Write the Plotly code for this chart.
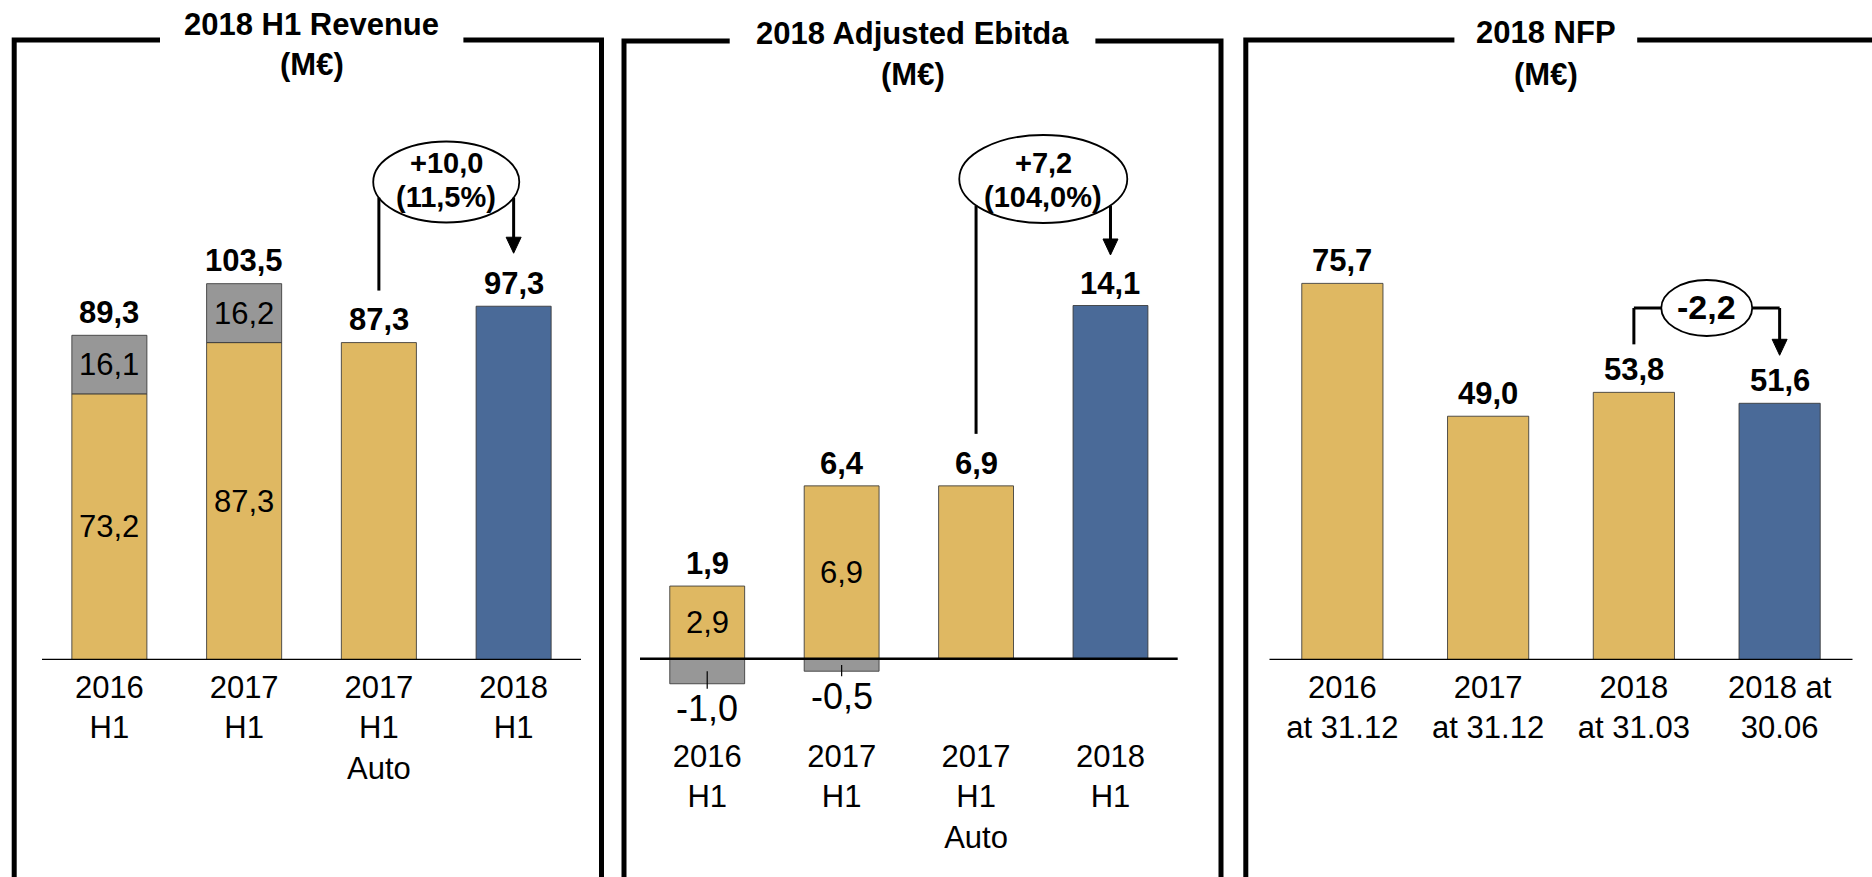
import plotly.graph_objects as go

W, H = 1872, 877

# ---------------- data ----------------
rev_categories = ["2016<br>H1", "2017<br>H1", "2017<br>H1<br>Auto", "2018<br>H1"]
rev_core = [73.2, 87.3, 87.3]          # gold segments (2016 H1, 2017 H1, 2017 H1 Auto)
rev_other = [16.1, 16.2]               # grey segments stacked on 2016 / 2017
rev_current = [97.3]                   # 2018 H1
rev_delta_text = ["+10,0", "(11,5%)"]

ebitda_categories = ["2016<br>H1", "2017<br>H1", "2017<br>H1<br>Auto", "2018<br>H1"]
ebitda_core = [2.9, 6.9, 6.9]
ebitda_other = [-1.0, -0.5]
ebitda_current = [14.1]
ebitda_delta_text = ["+7,2", "(104,0%)"]

nfp_categories = ["2016<br>at 31.12", "2017<br>at 31.12", "2018<br>at 31.03", "2018 at<br>30.06"]
nfp_past = [75.7, 49.0, 53.8]
nfp_current = [51.6]
nfp_delta_text = "-2,2"

titles = ["2018 H1 Revenue", "2018 Adjusted Ebitda", "2018 NFP"]
unit = "(M€)"

# ---------------- style ----------------
GOLD = "#DFB862"
GREY = "#979797"
BLUE = "#4A6A98"
EDGE = "rgba(55,55,55,0.85)"
FONT = "Liberation Sans, Arial, Helvetica, sans-serif"
BAR_W = 0.557


def fmt(v):
    return f"{v:.1f}".replace(".", ",")


# panel geometry in pixels: axis extent, zero line, plot bottom/top, px per unit
panels = [
    dict(x0=42, x1=581, base=660.0, bottom=660.0, top=105.0, s=3.636,
         box=(14.2, 601.5, 40.0), gap=(160.0, 463.4), title_y=(24.0, 64.0)),
    dict(x0=640, x1=1177.7, base=658.7, bottom=729.0, top=105.0, s=25.05,
         box=(624.0, 1221.0, 41.0), gap=(729.7, 1095.4), title_y=(33.3, 74.5)),
    dict(x0=1269.5, x1=1852.5, base=660.0, bottom=660.0, top=105.0, s=4.975,
         box=(1245.8, 1874.5, 40.0), gap=(1454.4, 1637.2), title_y=(32.0, 74.5)),
]

fig = go.Figure()
shapes = []
annotations = []


def px(xp):
    return xp / W


def py(yp):
    return 1 - yp / H


def bar(idx, xs, ys, color, base=None):
    ax = "" if idx == 1 else str(idx)
    fig.add_trace(go.Bar(
        x=xs, y=ys, base=base, width=BAR_W,
        marker=dict(color=color, line=dict(color=EDGE, width=1)),
        xaxis="x" + ax, yaxis="y" + ax, showlegend=False, hoverinfo="skip"))


def text(idx, x, y, s, size, bold=False, yshift=0, yanchor="middle"):
    ax = "" if idx == 1 else str(idx)
    annotations.append(dict(
        x=x, y=y, xref="x" + ax, yref="y" + ax, text=s, showarrow=False,
        yshift=yshift, yanchor=yanchor, xanchor="center",
        font=dict(family=FONT, size=size, color="black",
                  weight="bold" if bold else "normal")))


def line(idx, xa, ya, xb, yb, width=3):
    ax = "" if idx == 1 else str(idx)
    shapes.append(dict(type="line", xref="x" + ax, yref="y" + ax,
                       x0=xa, y0=ya, x1=xb, y1=yb,
                       line=dict(color="black", width=width), layer="above"))


def arrow_head(idx, x, y):
    ax = "" if idx == 1 else str(idx)
    shapes.append(dict(type="path", xref="x" + ax, yref="y" + ax,
                       xsizemode="pixel", ysizemode="pixel",
                       xanchor=x, yanchor=y,
                       path="M -7.5,16 L 7.5,16 L 0,0 Z",
                       fillcolor="black", line=dict(color="black", width=1),
                       layer="above"))


def bubble(idx, xc, yc, rx, ry):
    ax = "" if idx == 1 else str(idx)
    shapes.append(dict(type="circle", xref="x" + ax, yref="y" + ax,
                       x0=xc - rx, x1=xc + rx, y0=yc - ry, y1=yc + ry,
                       line=dict(color="black", width=1.8),
                       fillcolor="white", layer="above"))


# ---------------- axes ----------------
cat_lists = [rev_categories, ebitda_categories, nfp_categories]
for i, p in enumerate(panels, start=1):
    key = "" if i == 1 else str(i)
    yr = [-(p["bottom"] - p["base"]) / p["s"], (p["base"] - p["top"]) / p["s"]]
    fig.layout["xaxis" + key] = dict(
        domain=[px(p["x0"]), px(p["x1"])], range=[-0.5, 3.5],
        anchor="y" + key, tickmode="array", tickvals=[0, 1, 2, 3],
        ticktext=cat_lists[i - 1], showgrid=False, zeroline=False,
        showline=False, ticks="", ticklabelstandoff=6,
        tickfont=dict(family=FONT, size=31, color="black"), fixedrange=True)
    fig.layout["yaxis" + key] = dict(
        domain=[py(p["bottom"]), py(p["top"])], range=yr,
        anchor="x" + key, visible=False, fixedrange=True)
    # zero line of each panel
    shapes.append(dict(type="line", xref="x" + key + " domain", yref="y" + key,
                       x0=0, x1=1, y0=0, y1=0,
                       line=dict(color="black", width=2.5), layer="above"))
    # framed box with an opening for the title
    L, R, T = p["box"]
    gL, gR = p["gap"]
    shapes.append(dict(type="path", xref="paper", yref="paper",
                       path=f"M {px(L)},{py(H + 20)} L {px(L)},{py(T)} L {px(gL)},{py(T)}",
                       line=dict(color="black", width=5)))
    shapes.append(dict(type="path", xref="paper", yref="paper",
                       path=f"M {px(gR)},{py(T)} L {px(R)},{py(T)} L {px(R)},{py(H + 20)}",
                       line=dict(color="black", width=5)))
    tx = (gL + gR) / 2
    for s, ty in zip([titles[i - 1], unit], p["title_y"]):
        annotations.append(dict(
            x=px(tx), y=py(ty), xref="paper", yref="paper", text=s,
            showarrow=False, xanchor="center", yanchor="middle",
            font=dict(family=FONT, size=31, color="black", weight="bold")))

# ---------------- panel 1: revenue ----------------
P = panels[0]
bar(1, [0, 1, 2], rev_core, GOLD)
bar(1, [0, 1], rev_other, GREY, base=rev_core[:2])
bar(1, [3], rev_current, BLUE)
rev_tops = [rev_core[0] + rev_other[0], rev_core[1] + rev_other[1], rev_core[2], rev_current[0]]
for i, v in enumerate(rev_tops):
    text(1, i, v, fmt(v), 31, bold=True, yshift=23)
for i, v in enumerate(rev_core[:2]):
    text(1, i, v / 2, fmt(v), 31)
for i, v in enumerate(rev_other):
    text(1, i, rev_core[i] + v / 2, fmt(v), 31)
s1 = P["s"]
yc1, ry1, rx1 = (P["base"] - 182) / s1, 40.5 / s1, 0.542
bubble(1, 2.5, yc1, rx1, ry1)
edge1 = yc1 - ry1 * (1 - (0.5 / rx1) ** 2) ** 0.5
line(1, 2, rev_tops[2] + 52 / s1, 2, edge1)
tip1 = rev_tops[3] + 53 / s1
line(1, 3, edge1, 3, tip1 + 12 / s1)
arrow_head(1, 3, tip1)
text(1, 2.5, yc1, rev_delta_text[0], 29, bold=True, yshift=18.7)
text(1, 2.5, yc1, rev_delta_text[1], 29, bold=True, yshift=-14.7)

# ---------------- panel 2: adjusted ebitda ----------------
P = panels[1]
s2 = P["s"]
bar(2, [0, 1, 2], ebitda_core, GOLD)
bar(2, [0, 1], ebitda_other, GREY, base=[0, 0])
bar(2, [3], ebitda_current, BLUE)
eb_tops = [ebitda_core[0] + ebitda_other[0], ebitda_core[1] + ebitda_other[1],
           ebitda_core[2], ebitda_current[0]]
eb_heights = [ebitda_core[0], ebitda_core[1], ebitda_core[2], ebitda_current[0]]
for i, (v, h) in enumerate(zip(eb_tops, eb_heights)):
    text(2, i, h, fmt(v), 31, bold=True, yshift=22.5)
for i, v in enumerate(ebitda_core[:2]):
    text(2, i, v / 2, fmt(v), 31)
for i, v in enumerate(ebitda_other):
    # leader from the middle of the negative block to its label below
    line(2, i, v / 2, i, v - 5 / s2, width=1.2)
    text(2, i, v, fmt(v), 36, yshift=-25)
yc2, ry2, rx2 = (P["base"] - 179) / s2, 44 / s2, 0.625
bubble(2, 2.5, yc2, rx2, ry2)
edge2 = yc2 - ry2 * (1 - (0.5 / rx2) ** 2) ** 0.5
line(2, 2, eb_tops[2] + 52 / s2, 2, edge2)
tip2 = eb_tops[3] + 50.5 / s2
line(2, 3, edge2, 3, tip2 + 12 / s2)
arrow_head(2, 3, tip2)
text(2, 2.5, yc2, ebitda_delta_text[0], 29, bold=True, yshift=15.7)
text(2, 2.5, yc2, ebitda_delta_text[1], 29, bold=True, yshift=-17.7)

# ---------------- panel 3: NFP ----------------
P = panels[2]
s3 = P["s"]
bar(3, [0, 1, 2], nfp_past, GOLD)
bar(3, [3], nfp_current, BLUE)
nfp_all = nfp_past + nfp_current
for i, v in enumerate(nfp_all):
    text(3, i, v, fmt(v), 31, bold=True, yshift=22.5)
yc3, ry3, rx3 = (P["base"] - 308) / s3, 28 / s3, 0.312
line(3, 2, nfp_all[2] + 48 / s3, 2, yc3)
line(3, 2, yc3, 2.5 - rx3, yc3)
tip3 = nfp_all[3] + 48 / s3
line(3, 2.5 + rx3, yc3, 3, yc3)
line(3, 3, yc3, 3, tip3 + 12 / s3)
arrow_head(3, 3, tip3)
bubble(3, 2.5, yc3, rx3, ry3)
text(3, 2.5, yc3, nfp_delta_text, 34, bold=True, yshift=1)

fig.update_layout(
    width=W, height=H, autosize=False,
    margin=dict(l=0, r=0, t=0, b=0, pad=0),
    paper_bgcolor="white", plot_bgcolor="white",
    barmode="overlay", showlegend=False,
    shapes=shapes, annotations=annotations,
    font=dict(family=FONT, color="black"),
)

fig.write_html("out.html", config={"displayModeBar": False})
